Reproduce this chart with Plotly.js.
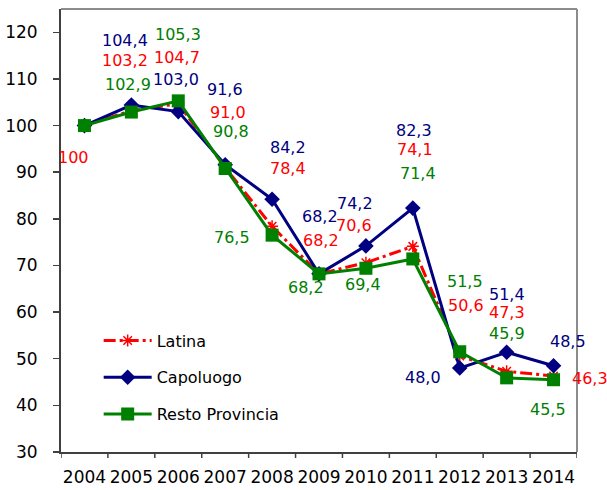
<!DOCTYPE html>
<html>
<head>
<meta charset="utf-8">
<script src="https://cdn.plot.ly/plotly-3.0.1.min.js"></script>
<style>
html,body{margin:0;padding:0;background:#fff;}
#chart{width:607px;height:490px;}
</style>
</head>
<body>
<div id="chart"></div>
<script>
// ---- data ----
const years = ['2004','2005','2006','2007','2008','2009','2010','2011','2012','2013','2014'];
const latina = [100, 103.2, 104.7, 91.0, 78.4, 68.2, 70.6, 74.1, 50.6, 47.3, 46.3];
const capoluogo = [100, 104.4, 103.0, 91.6, 84.2, 68.2, 74.2, 82.3, 48.0, 51.4, 48.5];
const restoProvincia = [100, 102.9, 105.3, 90.8, 76.5, 68.2, 69.4, 71.4, 51.5, 45.9, 45.5];
const seriesNames = ['Latina', 'Capoluogo', 'Resto Provincia'];

// ---- label offsets (pixels: [xshift, yshift]); null = no label ----
const latinaLabelPos = [[-11,-32],[-6,50],[-1,46],[3,55],[16,58],[2,33],[-12,37],[2,97],[6,50],[0,59],[36,-3]];
const capoluogoLabelPos = [null,[-6,65],[-2,32],[0,75],[16,52],[1,57],[-11,42],[1,78],[-37,-9],[0,58],[14,24]];
const restoLabelPos = [null,[-3,28],[0,66],[6,37],[-40,-2],[-13,-14],[-3,-16],[5,85],[5,70],[0,44],[-6,-30]];

const RED = '#FF0000', NAVY = '#000080', GREEN = '#008000', AXIS = '#404040';
const FONT = 'DejaVu Sans';
const Y_MIN = 30, Y_MAX = 125;

function fmt(v) {
  if (v === 100) return '100';
  return v.toFixed(1).replace('.', ',');
}

const traces = [
  {x: years, y: latina, name: seriesNames[0], legendgroup: 'a', type: 'scatter', mode: 'lines+markers',
   line: {color: RED, width: 3, dash: '12px,4px,3px,4px'},
   marker: {symbol: 'asterisk-open', size: 10, color: RED, line: {color: RED, width: 1.5}}},
  {x: years, y: capoluogo, name: seriesNames[1], legendgroup: 'b', type: 'scatter', mode: 'lines+markers',
   line: {color: NAVY, width: 3},
   marker: {symbol: 'diamond', size: 12, color: NAVY}},
  {x: years, y: restoProvincia, name: seriesNames[2], legendgroup: 'c', type: 'scatter', mode: 'lines+markers',
   line: {color: GREEN, width: 3},
   marker: {symbol: 'square', size: 13, color: GREEN}}
];

const annotations = [];
function addLabels(vals, pos, color) {
  for (let i = 0; i < vals.length; i++) {
    if (!pos[i]) continue;
    annotations.push({x: i, y: vals[i], xref: 'x', yref: 'y', text: fmt(vals[i]),
      showarrow: false, xshift: pos[i][0], yshift: pos[i][1],
      font: {family: FONT, size: 16, color: color}});
  }
}
addLabels(latina, latinaLabelPos, RED);
addLabels(capoluogo, capoluogoLabelPos, NAVY);
addLabels(restoProvincia, restoLabelPos, GREEN);

// plot frame (top/right gray) and visible x tick marks between categories
const shapes = [
  {type: 'line', xref: 'paper', yref: 'paper', x0: 0, x1: 1, y0: 1, y1: 1, line: {color: '#8c8c8c', width: 2}},
  {type: 'line', xref: 'paper', yref: 'paper', x0: 1, x1: 1, y0: 0, y1: 1, line: {color: '#8c8c8c', width: 2}}
];
for (let i = 0; i <= years.length; i++) {
  shapes.push({type: 'line', xref: 'x', yref: 'paper', ysizemode: 'pixel', yanchor: 0,
    x0: i - 0.5, x1: i - 0.5, y0: 0, y1: -6, line: {color: AXIS, width: 1.5}});
}

const layout = {
  width: 607, height: 490,
  margin: {l: 61, r: 30, t: 9, b: 38},
  paper_bgcolor: '#fff', plot_bgcolor: '#fff',
  font: {family: FONT, size: 17, color: '#000'},
  showlegend: true,
  legend: {x: 0.073, y: 0.29, xanchor: 'left', yanchor: 'top',
    bgcolor: 'rgba(0,0,0,0)', font: {family: FONT, size: 16, color: '#000'},
    tracegroupgap: 13, itemwidth: 48},
  xaxis: {type: 'category', range: [-0.5, 10.5], tickangle: 0,
    showgrid: false, zeroline: false, showline: true, linecolor: AXIS, linewidth: 2,
    ticks: 'outside', ticklen: 9, tickcolor: 'rgba(0,0,0,0)',
    tickfont: {family: FONT, size: 17, color: '#000'}, fixedrange: true},
  yaxis: {range: [Y_MIN, Y_MAX], tick0: 30, dtick: 10, showgrid: false, zeroline: false,
    showline: true, linecolor: AXIS, linewidth: 2,
    ticks: 'outside', ticklen: 6, tickcolor: AXIS, tickwidth: 1.5,
    ticklabelstandoff: 12,
    tickfont: {family: FONT, size: 17, color: '#000'}, fixedrange: true},
  shapes: shapes,
  annotations: annotations
};

Plotly.newPlot('chart', traces, layout, {displayModeBar: false, staticPlot: true});
</script>
</body>
</html>
